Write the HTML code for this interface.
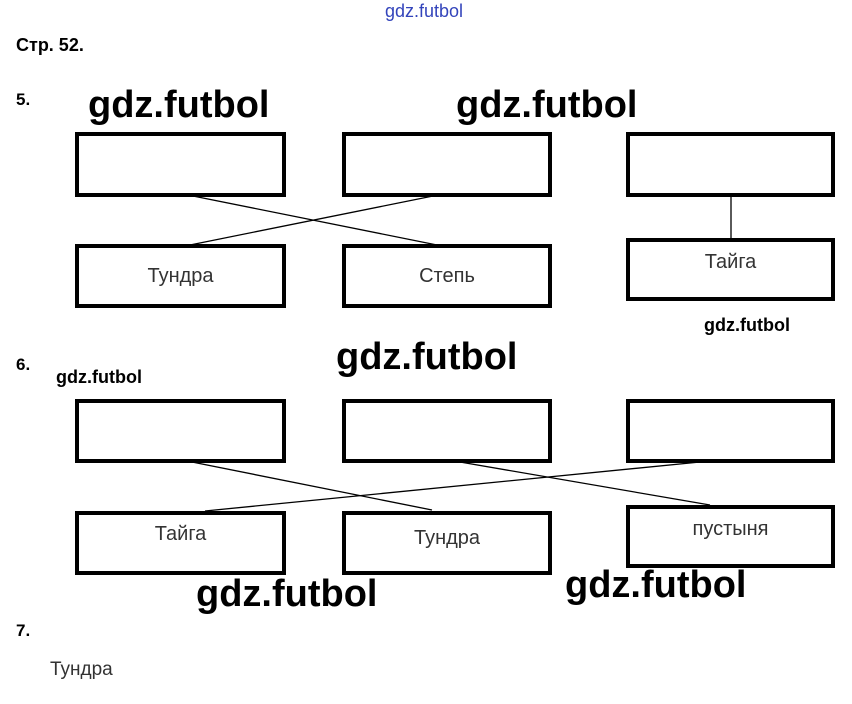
<!DOCTYPE html>
<html><head><meta charset="utf-8"><style>
body{margin:0;width:852px;height:704px;background:#fff;overflow:hidden;position:relative;font-family:"Liberation Sans",sans-serif}
.t{position:absolute;white-space:nowrap;line-height:1}
.w{font-weight:bold;font-size:38px;color:#000}
.s{font-weight:bold;font-size:18px;color:#000}
.b{position:absolute;border:4px solid #000;box-sizing:border-box;background:#fff;display:flex;align-items:center;justify-content:center;font-size:20px;color:#333}
</style></head><body>
<svg width="852" height="704" style="position:absolute;left:0;top:0">
<g stroke="#000" stroke-width="1.3">
<line x1="193" y1="196" x2="437" y2="245"/>
<line x1="433" y1="196" x2="190" y2="245"/>
<line x1="731" y1="196" x2="731" y2="238"/>
<line x1="192" y1="462" x2="432" y2="510"/>
<line x1="205" y1="511" x2="700" y2="462"/>
<line x1="460" y1="462" x2="710" y2="505"/>
</g></svg>
<div class="t" style="left:385px;top:2px;font-size:18px;color:#3344bb">gdz.futbol</div>
<div class="t" style="left:16px;top:36px;font-size:18px;font-weight:bold">Стр. 52.</div>
<div class="t" style="left:16px;top:91px;font-size:17px;font-weight:bold">5.</div>
<div class="t" style="left:16px;top:356px;font-size:17px;font-weight:bold">6.</div>
<div class="t" style="left:16px;top:622px;font-size:17px;font-weight:bold">7.</div>
<div class="t" style="left:50px;top:660px;font-size:19px;color:#333">Тундра</div>

<div class="b" style="left:75px;top:132px;width:211px;height:65px"></div>
<div class="b" style="left:342px;top:132px;width:210px;height:65px"></div>
<div class="b" style="left:626px;top:132px;width:209px;height:65px"></div>
<div class="b" style="left:75px;top:244px;width:211px;height:64px">Тундра</div>
<div class="b" style="left:342px;top:244px;width:210px;height:64px">Степь</div>
<div class="b" style="left:626px;top:238px;width:209px;height:63px;padding-bottom:14px">Тайга</div>

<div class="b" style="left:75px;top:399px;width:211px;height:64px"></div>
<div class="b" style="left:342px;top:399px;width:210px;height:64px"></div>
<div class="b" style="left:626px;top:399px;width:209px;height:64px"></div>
<div class="b" style="left:75px;top:511px;width:211px;height:64px;padding-bottom:18px">Тайга</div>
<div class="b" style="left:342px;top:511px;width:210px;height:64px;padding-bottom:10px">Тундра</div>
<div class="b" style="left:626px;top:505px;width:209px;height:63px;padding-bottom:14px">пустыня</div>

<div class="t w" style="left:88px;top:86px">gdz.futbol</div>
<div class="t w" style="left:456px;top:86px">gdz.futbol</div>
<div class="t w" style="left:336px;top:338px">gdz.futbol</div>
<div class="t w" style="left:196px;top:575px">gdz.futbol</div>
<div class="t w" style="left:565px;top:566px">gdz.futbol</div>
<div class="t s" style="left:704px;top:316px">gdz.futbol</div>
<div class="t s" style="left:56px;top:368px">gdz.futbol</div>
</body></html>
